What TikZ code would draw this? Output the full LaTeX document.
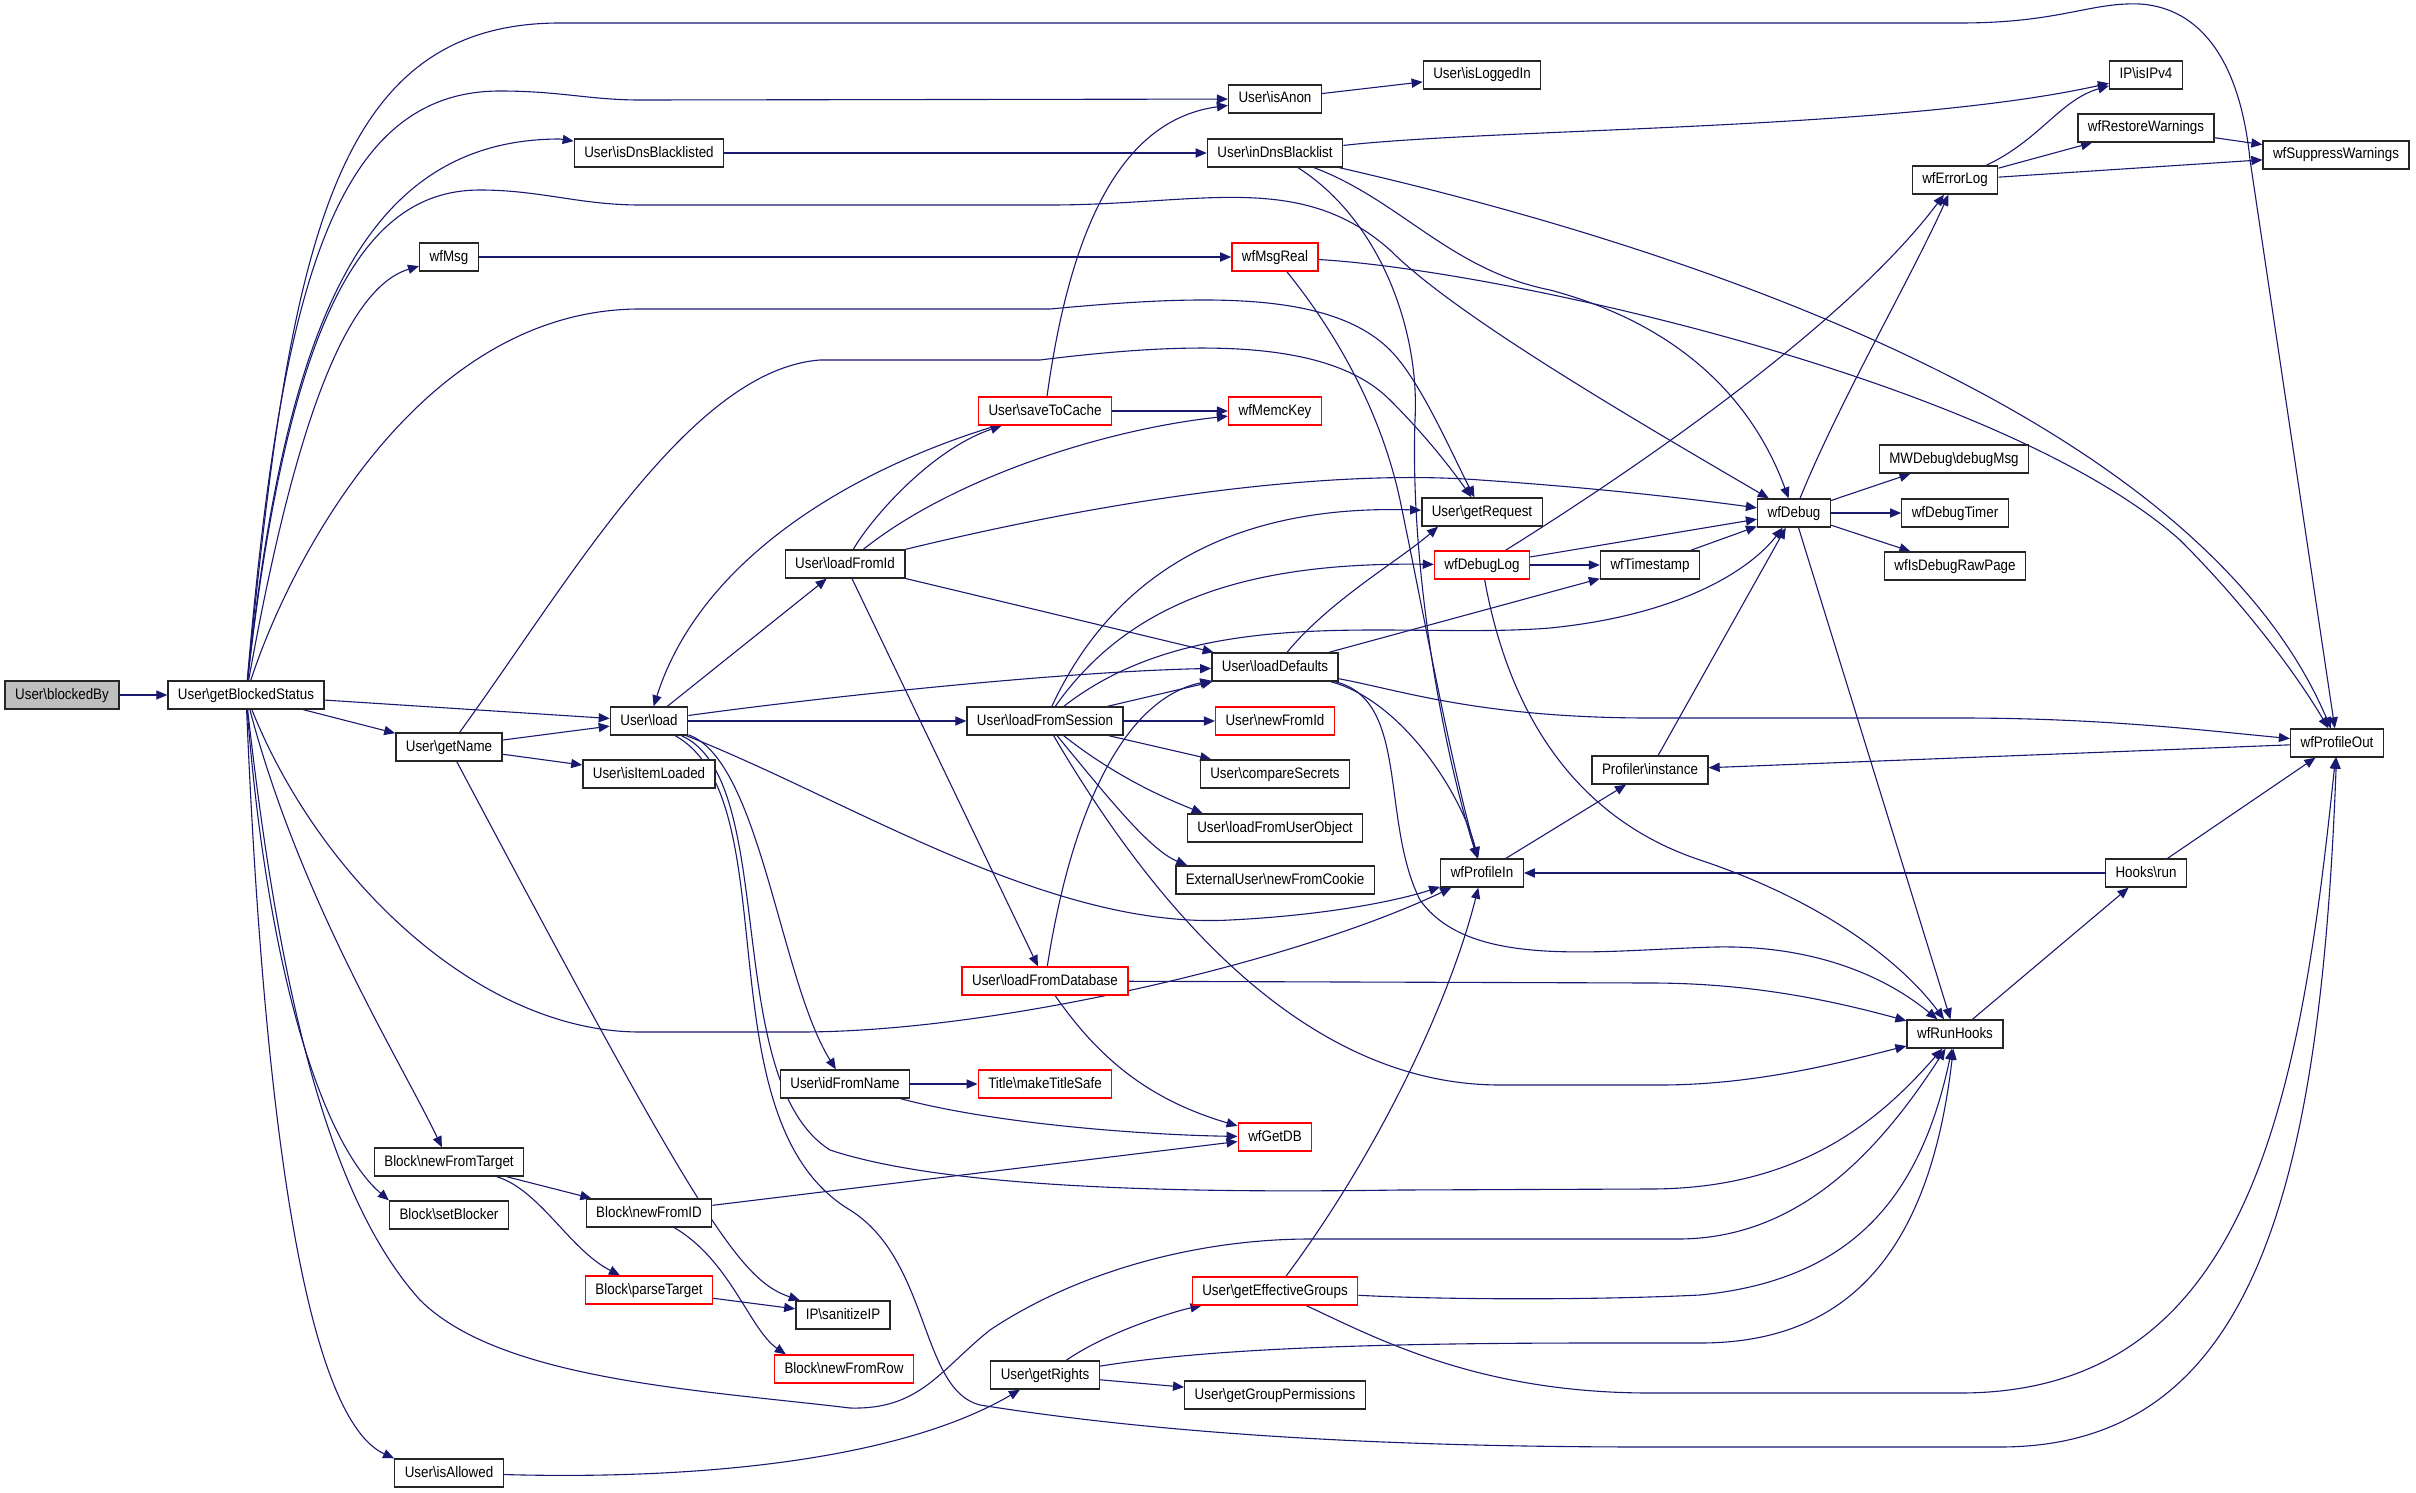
\documentclass[tikz,border=0pt]{standalone}
\usepackage{fontspec}
\newfontfamily\doxyfont{Liberation Sans}[FakeStretch=0.88]
\usetikzlibrary{arrows.meta}
\pgfdeclarelayer{background}
\pgfsetlayers{background,main}
\definecolor{edgeblue}{RGB}{25,25,112}
\definecolor{rootgray}{RGB}{191,191,191}
\newcommand{\bsl}{\textbackslash}
\tikzset{
  fn/.style={draw=black!85, line width=0.7pt, fill=white, minimum height=14pt,
    inner xsep=5pt, inner ysep=0pt, text height=5.6pt, text depth=1.6pt,
    font=\doxyfont\fontsize{7.6}{9}\selectfont},
  fnred/.style={fn, draw=red},
  fnroot/.style={fn, fill=rootgray},
  call/.style={draw=edgeblue, line width=0.55pt, -{Triangle[length=5.5pt,width=4.6pt]}},
}
\begin{document}
\begin{tikzpicture}[x=0.5pt, y=-0.5pt]
\useasboundingbox (0,0) rectangle (2416,1493);
%
\node[fnroot] (blockedBy) at (62,695) {User\bsl blockedBy};
\node[fn] (getBlockedStatus) at (246,695) {User\bsl getBlockedStatus};
\node[fn] (isAnon) at (1275,99) {User\bsl isAnon};
\node[fn] (isLoggedIn) at (1482,75) {User\bsl isLoggedIn};
\node[fn] (isDnsBlacklisted) at (649,153) {User\bsl isDnsBlacklisted};
\node[fn] (inDnsBlacklist) at (1275,153) {User\bsl inDnsBlacklist};
\node[fn] (wfMsg) at (449,257) {wfMsg};
\node[fnred] (wfMsgReal) at (1275,257) {wfMsgReal};
\node[fnred] (saveToCache) at (1045,411) {User\bsl saveToCache};
\node[fnred] (wfMemcKey) at (1275,411) {wfMemcKey};
\node[fn] (getRequest) at (1482,512) {User\bsl getRequest};
\node[fnred] (wfDebugLog) at (1482,565) {wfDebugLog};
\node[fn] (loadFromId) at (845,564) {User\bsl loadFromId};
\node[fn] (wfTimestamp) at (1650,565) {wfTimestamp};
\node[fn] (wfDebug) at (1794,513) {wfDebug};
\node[fn] (wfErrorLog) at (1955,180) {wfErrorLog};
\node[fn] (isIPv4) at (2146,75) {IP\bsl isIPv4};
\node[fn] (wfRestoreWarnings) at (2146,128) {wfRestoreWarnings};
\node[fn] (wfSuppressWarnings) at (2336,155) {wfSuppressWarnings};
\node[fn] (debugMsg) at (1954,459) {MWDebug\bsl debugMsg};
\node[fn] (wfDebugTimer) at (1955,513) {wfDebugTimer};
\node[fn] (wfIsDebugRawPage) at (1955,566) {wfIsDebugRawPage};
\node[fn] (loadDefaults) at (1275,667) {User\bsl loadDefaults};
\node[fn] (load) at (649,721) {User\bsl load};
\node[fn] (loadFromSession) at (1045,721) {User\bsl loadFromSession};
\node[fnred] (newFromId) at (1275,721) {User\bsl newFromId};
\node[fn] (getName) at (449,747) {User\bsl getName};
\node[fn] (isItemLoaded) at (649,774) {User\bsl isItemLoaded};
\node[fn] (compareSecrets) at (1275,774) {User\bsl compareSecrets};
\node[fn] (loadFromUserObject) at (1275,828) {User\bsl loadFromUserObject};
\node[fn] (newFromCookie) at (1275,880) {ExternalUser\bsl newFromCookie};
\node[fn] (wfProfileIn) at (1482,873) {wfProfileIn};
\node[fn] (wfProfileOut) at (2337,743) {wfProfileOut};
\node[fn] (profInstance) at (1650,770) {Profiler\bsl instance};
\node[fn] (hooksRun) at (2146,873) {Hooks\bsl run};
\node[fnred] (loadFromDatabase) at (1045,981) {User\bsl loadFromDatabase};
\node[fn] (wfRunHooks) at (1955,1034) {wfRunHooks};
\node[fn] (idFromName) at (845,1084) {User\bsl idFromName};
\node[fnred] (makeTitleSafe) at (1045,1084) {Title\bsl makeTitleSafe};
\node[fnred] (wfGetDB) at (1275,1137) {wfGetDB};
\node[fn] (newFromTarget) at (449,1162) {Block\bsl newFromTarget};
\node[fn] (setBlocker) at (449,1215) {Block\bsl setBlocker};
\node[fn] (blockFromID) at (649,1213) {Block\bsl newFromID};
\node[fnred] (parseTarget) at (649,1290) {Block\bsl parseTarget};
\node[fn] (sanitizeIP) at (843,1315) {IP\bsl sanitizeIP};
\node[fnred] (newFromRow) at (844,1369) {Block\bsl newFromRow};
\node[fn] (getRights) at (1045,1375) {User\bsl getRights};
\node[fnred] (getEffectiveGroups) at (1275,1291) {User\bsl getEffectiveGroups};
\node[fn] (getGroupPermissions) at (1275,1395) {User\bsl getGroupPermissions};
\node[fn] (isAllowed) at (449,1473) {User\bsl isAllowed};
%
\begin{pgfonlayer}{background}
% getBlockedStatus
\draw[call] (blockedBy) -- (getBlockedStatus);
\draw[call] (getBlockedStatus) .. controls (290,250) and (330,23) .. (560,23) -- (1960,23) .. controls (2060,23) and (2090,2) .. (2140,4) .. controls (2200,8) and (2240,60) .. (2250,160) -- (wfProfileOut);
\draw[call] (getBlockedStatus) .. controls (280,300) and (330,91) .. (500,91) .. controls (560,91) and (590,100) .. (640,100) -- (isAnon);
\draw[call] (getBlockedStatus) .. controls (285,330) and (360,139) .. (560,139) -- (isDnsBlacklisted);
\draw[call] (getBlockedStatus) .. controls (290,300) and (370,190) .. (480,190) .. controls (540,190) and (580,205) .. (640,205) -- (1050,205) .. controls (1200,205) and (1300,170) .. (1390,250) .. controls (1450,310) and (1600,400) .. (wfDebug);
\draw[call] (getBlockedStatus) .. controls (290,450) and (340,290) .. (wfMsg);
\draw[call] (getBlockedStatus) .. controls (290,560) and (420,309) .. (640,309) -- (1050,309) .. controls (1200,295) and (1330,290) .. (1390,350) .. controls (1420,380) and (1450,450) .. (getRequest);
\draw[call] (getBlockedStatus) -- (getName);
\draw[call] (getBlockedStatus) -- (load);
\draw[call] (getBlockedStatus) .. controls (320,880) and (480,1032) .. (640,1032) -- (800,1032) .. controls (1000,1032) and (1300,960) .. (wfProfileIn);
\draw[call] (getBlockedStatus) .. controls (300,900) and (400,1060) .. (newFromTarget);
\draw[call] (getBlockedStatus) .. controls (270,1000) and (330,1150) .. (setBlocker.north west);
\draw[call] (getBlockedStatus) .. controls (265,1150) and (310,1420) .. (isAllowed.north west);
\draw[call] (getBlockedStatus) .. controls (280,1000) and (330,1200) .. (420,1300) .. controls (500,1380) and (700,1390) .. (850,1408) .. controls (920,1410) and (940,1370) .. (990,1330) .. controls (1080,1270) and (1200,1239) .. (1310,1239) -- (1678,1239) .. controls (1800,1239) and (1880,1150) .. (wfRunHooks);
% getName
\draw[call] (getName) -- (load);
\draw[call] (getName) -- (isItemLoaded);
\draw[call] (getName) .. controls (570,580) and (690,370) .. (820,360) -- (1040,360) .. controls (1200,340) and (1330,340) .. (1390,400) .. controls (1420,430) and (1445,460) .. (getRequest);
\draw[call] (getName) .. controls (700,1220) and (740,1280) .. (sanitizeIP);
% load
\draw[call] (load) -- (loadFromSession);
\draw[call] (load) -- (loadFromId);
\draw[call] (load) .. controls (800,700) and (1050,672) .. (loadDefaults);
\draw[call] (load) .. controls (760,760) and (780,980) .. (idFromName);
\draw[call] (load) .. controls (780,780) and (720,1080) .. (830,1150) .. controls (950,1190) and (1200,1193) .. (1400,1190) -- (1650,1189) .. controls (1800,1189) and (1880,1120) .. (wfRunHooks);
\draw[call] (load) .. controls (790,800) and (700,1120) .. (850,1210) .. controls (930,1260) and (920,1390) .. (980,1405) .. controls (1200,1440) and (1450,1447) .. (1650,1447) -- (2000,1447) .. controls (2250,1447) and (2320,1200) .. (wfProfileOut);
\draw[call] (load) .. controls (850,800) and (1050,930) .. (1230,920) .. controls (1330,915) and (1400,900) .. (wfProfileIn);
% loadFromId, saveToCache
\draw[call] (loadFromId) .. controls (870,520) and (930,450) .. (saveToCache);
\draw[call] (loadFromId) .. controls (950,480) and (1100,430) .. (wfMemcKey);
\draw[call] (loadFromId) .. controls (1150,490) and (1350,470) .. (1480,480) .. controls (1600,488) and (1700,500) .. (wfDebug);
\draw[call] (loadFromId) -- (loadDefaults);
\draw[call] (loadFromId) -- (loadFromDatabase);
\draw[call] (saveToCache) .. controls (850,470) and (700,560) .. (load);
\draw[call] (saveToCache) -- (wfMemcKey);
\draw[call] (saveToCache) .. controls (1070,230) and (1120,120) .. (isAnon);
% loadFromSession
\draw[call] (loadFromSession) .. controls (1120,560) and (1250,505) .. (getRequest);
\draw[call] (loadFromSession) .. controls (1130,600) and (1250,562) .. (wfDebugLog);
\draw[call] (loadFromSession) .. controls (1200,600) and (1400,640) .. (1550,628) .. controls (1680,615) and (1750,570) .. (wfDebug);
\draw[call] (loadFromSession) -- (loadDefaults);
\draw[call] (loadFromSession) -- (newFromId);
\draw[call] (loadFromSession) -- (compareSecrets);
\draw[call] (loadFromSession) .. controls (1120,780) and (1170,800) .. ([xshift=8pt]loadFromUserObject.north west);
\draw[call] (loadFromSession) .. controls (1110,800) and (1150,850) .. ([xshift=6pt]newFromCookie.north west);
\draw[call] (loadFromSession) .. controls (1150,900) and (1300,1085) .. (1500,1085) -- (1660,1085) .. controls (1760,1085) and (1850,1060) .. (wfRunHooks);
% loadDefaults
\draw[call] (loadDefaults) .. controls (1330,600) and (1400,560) .. ([xshift=-22pt]getRequest.south);
\draw[call] (loadDefaults) -- (wfTimestamp);
\draw[call] (loadDefaults) .. controls (1400,700) and (1460,790) .. (wfProfileIn);
\draw[call] (loadDefaults) .. controls (1400,690) and (1480,718) .. (1650,718) -- (1960,718) .. controls (2100,718) and (2200,730) .. (wfProfileOut);
\draw[call] (loadDefaults) .. controls (1410,700) and (1380,820) .. (1420,900) .. controls (1470,970) and (1600,950) .. (1716,947) .. controls (1820,945) and (1890,980) .. (wfRunHooks);
% loadFromDatabase
\draw[call] (loadFromDatabase) .. controls (1070,820) and (1120,700) .. (loadDefaults);
\draw[call] (loadFromDatabase) -- (1650,983) .. controls (1750,983) and (1830,1000) .. (wfRunHooks);
\draw[call] (loadFromDatabase) .. controls (1100,1060) and (1150,1100) .. (wfGetDB);
% idFromName, Block
\draw[call] (idFromName) -- (makeTitleSafe);
\draw[call] (idFromName) .. controls (1000,1125) and (1150,1135) .. (wfGetDB);
\draw[call] (newFromTarget) -- (blockFromID);
\draw[call] (newFromTarget) .. controls (540,1190) and (570,1250) .. (parseTarget);
\draw[call] (blockFromID) -- (wfGetDB);
\draw[call] (blockFromID) .. controls (730,1260) and (750,1330) .. ([xshift=6pt]newFromRow.north west);
\draw[call] (parseTarget) -- (sanitizeIP);
% isAllowed, getRights
\draw[call] (isAllowed) .. controls (700,1480) and (900,1460) .. (getRights);
\draw[call] (getRights) .. controls (1110,1330) and (1180,1310) .. (getEffectiveGroups);
\draw[call] (getRights) -- (getGroupPermissions);
\draw[call] (getRights) .. controls (1200,1350) and (1350,1343) .. (1600,1343) -- (1700,1343) .. controls (1850,1343) and (1930,1250) .. (wfRunHooks);
\draw[call] (getEffectiveGroups) .. controls (1380,1150) and (1450,1000) .. (wfProfileIn);
\draw[call] (getEffectiveGroups) .. controls (1450,1300) and (1600,1300) .. (1700,1295) .. controls (1850,1280) and (1920,1200) .. (wfRunHooks);
\draw[call] (getEffectiveGroups) .. controls (1380,1340) and (1480,1393) .. (1650,1393) -- (1960,1393) .. controls (2250,1393) and (2300,1100) .. (wfProfileOut);
% isAnon, inDnsBlacklist, wfMsgReal
\draw[call] (isAnon) -- (isLoggedIn);
\draw[call] (isDnsBlacklisted) -- (inDnsBlacklist);
\draw[call] (wfMsg) -- (wfMsgReal);
\draw[call] (inDnsBlacklist) .. controls (1500,128) and (1900,130) .. (isIPv4);
\draw[call] (inDnsBlacklist) .. controls (1700,250) and (2200,420) .. (wfProfileOut);
\draw[call] (inDnsBlacklist) .. controls (1400,200) and (1450,270) .. (1550,290) .. controls (1700,330) and (1760,420) .. (wfDebug);
\draw[call] (inDnsBlacklist) .. controls (1380,220) and (1420,330) .. (1415,420) .. controls (1410,560) and (1440,740) .. (wfProfileIn);
\draw[call] (wfMsgReal) .. controls (1350,350) and (1385,430) .. (1400,500) .. controls (1425,620) and (1450,760) .. (wfProfileIn);
\draw[call] (wfMsgReal) .. controls (1500,270) and (2000,380) .. (2180,540) .. controls (2250,610) and (2300,680) .. (wfProfileOut);
% wfDebug and friends
\draw[call] (wfDebugLog) -- (wfTimestamp);
\draw[call] (wfDebugLog) -- (wfDebug);
\draw[call] (wfTimestamp) -- (wfDebug);
\draw[call] (wfDebugLog) .. controls (1650,460) and (1850,320) .. (wfErrorLog);
\draw[call] (wfDebugLog) .. controls (1510,720) and (1580,820) .. (1700,860) .. controls (1820,900) and (1900,960) .. (wfRunHooks);
\draw[call] (wfDebug) .. controls (1840,400) and (1910,280) .. (wfErrorLog);
\draw[call] (wfDebug) -- (debugMsg);
\draw[call] (wfDebug) -- (wfDebugTimer);
\draw[call] (wfDebug) -- (wfIsDebugRawPage);
\draw[call] (wfDebug) -- (wfRunHooks);
\draw[call] (wfErrorLog) .. controls (2040,140) and (2060,100) .. (isIPv4);
\draw[call] (wfErrorLog) -- (wfRestoreWarnings);
\draw[call] (wfErrorLog) -- (wfSuppressWarnings);
\draw[call] (wfRestoreWarnings) -- (wfSuppressWarnings);
% profiling, hooks
\draw[call] (wfProfileIn) -- (profInstance);
\draw[call] (wfProfileOut) -- (profInstance);
\draw[call] (profInstance) -- (wfDebug);
\draw[call] (hooksRun) -- (wfProfileIn);
\draw[call] (hooksRun) -- (wfProfileOut);
\draw[call] (wfRunHooks) -- (hooksRun);
\end{pgfonlayer}
\end{tikzpicture}
\end{document}
